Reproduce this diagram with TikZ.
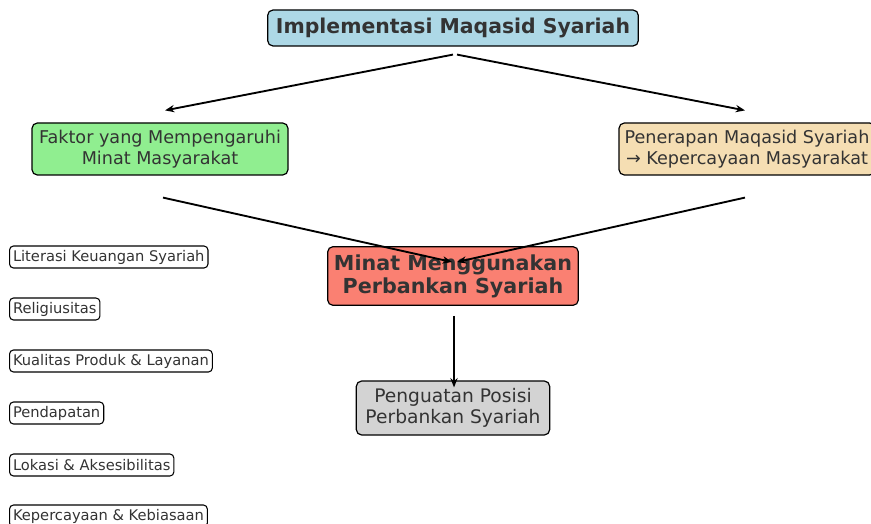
\documentclass[tikz,border=0pt]{standalone}
\usepackage{fontspec}
\setmainfont{DejaVu Sans}
\usetikzlibrary{arrows.meta, positioning, calc}
\definecolor{teks}{HTML}{333333}
\definecolor{biru}{HTML}{ADD8E6}
\definecolor{hijau}{HTML}{90EE90}
\definecolor{gandum}{HTML}{F5DEB3}
\definecolor{salmon}{HTML}{FA8072}
\definecolor{abu}{HTML}{D3D3D3}
\tikzset{
  kotak/.style={draw, line width=0.9pt, rounded corners=4pt, text=teks, align=center, inner sep=0pt},
  faktor/.style={draw, line width=0.8pt, rounded corners=3pt, text=teks, inner xsep=2.6pt, inner ysep=2pt,
    font=\fontsize{11}{13}\selectfont, anchor=west, minimum height=16.5pt},
}
\newcommand{\panah}{\draw[line width=1.4pt,->]}

\begin{document}
\begin{tikzpicture}[x=0.75pt, y=-0.75pt, >={Stealth[length=7pt,width=5.5pt]}]
\useasboundingbox (0,0) rectangle (871,524);
% Kotak utama
\node[kotak, fill=biru, minimum width=278pt, minimum height=27pt,
  font=\fontsize{15.3}{18}\bfseries] (implementasi) at (453,28) {Implementasi Maqasid Syariah};
\node[kotak, fill=hijau, minimum width=192pt, minimum height=39pt,
  font=\fontsize{13.2}{15.8}\selectfont] (faktor) at (160,149) {Faktor yang Mempengaruhi\\Minat Masyarakat};
\node[kotak, fill=gandum, minimum width=192pt, minimum height=39pt,
  font=\fontsize{13.2}{15.8}\selectfont] (penerapan) at (747,149) {Penerapan Maqasid Syariah\\→ Kepercayaan Masyarakat};
\node[kotak, fill=salmon, minimum width=188pt, minimum height=44pt,
  font=\fontsize{15.5}{17.2}\bfseries] (minat) at (453,276) {Minat Menggunakan\\Perbankan Syariah};
\node[kotak, fill=abu, minimum width=145pt, minimum height=40.5pt,
  font=\fontsize{14}{15.8}\selectfont] (penguatan) at (453,408) {Penguatan Posisi\\Perbankan Syariah};

% Daftar faktor
\node[faktor] (literasi) at (9,257) {Literasi Keuangan Syariah};
\node[faktor] (religiusitas) at (9,309) {Religiusitas};
\node[faktor] (kualitas) at (9,361) {Kualitas Produk \& Layanan};
\node[faktor] (pendapatan) at (9,413) {Pendapatan};
\node[faktor] (lokasi) at (9,465) {Lokasi \& Aksesibilitas};
\node[faktor] (kebiasaan) at (9,516) {Kepercayaan \& Kebiasaan};

% Titik ujung panah
\coordinate (a1) at ($(implementasi.south)+(0,8)$);
\coordinate (a2) at ($(implementasi.south)+(4,8)$);
\coordinate (b1) at ($(faktor.north)+(5,-12)$);
\coordinate (b2) at ($(penerapan.north)+(-2,-12)$);
\coordinate (c1) at ($(faktor.south)+(3,22)$);
\coordinate (c2) at ($(penerapan.south)+(-2,22)$);
\coordinate (d1) at ($(minat.center)+(-1,-14)$);
\coordinate (d2) at ($(minat.center)+(4,-14)$);
\coordinate (e1) at ($(minat.south)+(1,10)$);
\coordinate (e2) at ($(penguatan.north)+(1,7)$);

% Panah
\panah (a1) -- (b1);
\panah (a2) -- (b2);
\panah (c1) -- (d1);
\panah (c2) -- (d2);
\panah (e1) -- (e2);
\end{tikzpicture}
\end{document}
